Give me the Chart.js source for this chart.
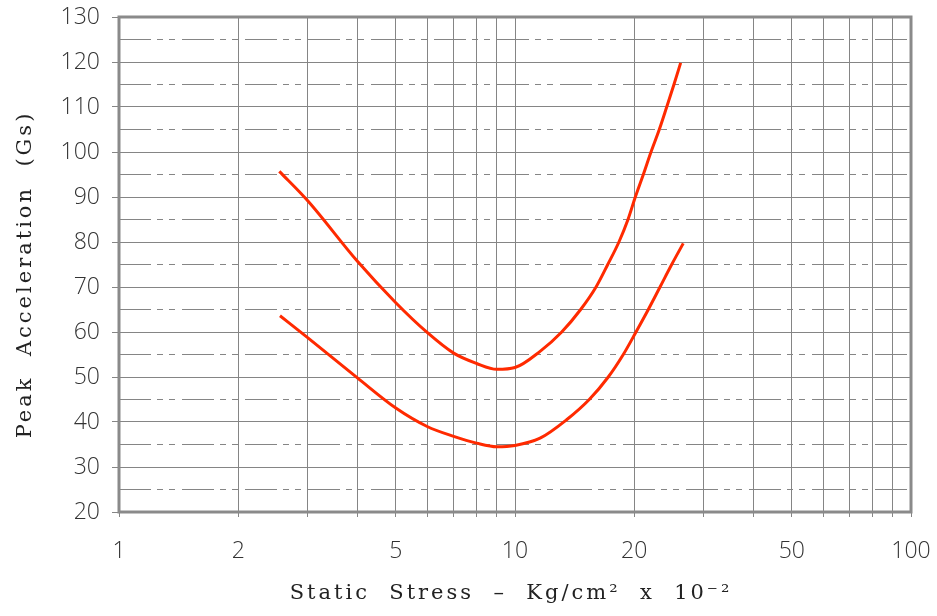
<!DOCTYPE html>
<html>
<head>
<meta charset="utf-8">
<script src="https://cdn.jsdelivr.net/npm/chart.js@4/dist/chart.umd.min.js"></script>
<style>
  html, body { margin: 0; padding: 0; background: #fff; }
  #wrap { width: 937px; height: 616px; position: relative; }
</style>
</head>
<body>
<div id="wrap"><canvas id="c" width="937" height="616"></canvas></div>
<script>
// ---- data ----
const upperStress = [2.54, 3, 4, 5, 6, 7, 8, 9, 10, 11.57, 13.12, 14.65, 16.02, 17.15, 18.3, 19.29, 20.13, 21.09, 22.05, 23.14, 24.16, 25.2, 26.2];
const upperAccel  = [95.7, 89.1, 75.7, 66.5, 59.9, 55.3, 53.0, 51.7, 52.1, 55.7, 60.0, 65.0, 70.0, 75.0, 80.0, 85.0, 90.0, 95.0, 100.0, 105.0, 110.0, 115.0, 119.8];
const lowerStress = [2.55, 3, 4, 5, 6, 7, 8, 9, 10, 11.57, 13.5, 15.4, 17.2, 18.77, 20.21, 21.71, 23.24, 24.87, 26.6];
const lowerAccel  = [63.6, 58.7, 49.8, 43.1, 39.0, 36.8, 35.3, 34.5, 34.8, 36.4, 40.5, 45.0, 50.0, 55.0, 60.0, 65.0, 70.0, 75.0, 79.7];

const xGridValues = [1,2,3,4,5,6,7,8,9,10,20,30,40,50,60,70,80,90,100];
const xTickLabels = ['1','2','5','10','20','50','100'];
const yTickLabels = ['20','30','40','50','60','70','80','90','100','110','120','130'];

const xTitle = 'Static  Stress  \u2013  Kg/cm\u00B2  x  10\u207B\u00B2';
const yTitle = 'Peak  Acceleration  (Gs)';

const toPoints = (xs, ys) => xs.map((x, i) => ({ x: x, y: ys[i] }));

const GRID = '#858585';
const RED = '#ff2a00';
const DASH = [32, 6, 6, 6, 6, 7];
const TITLE_SHIFT = { x: [-4, 0], y: [0, 10] };

const framePlugin = {
  id: 'frame',
  beforeDraw(chart) {
    ['x', 'y'].forEach(id => {
      const s = chart.scales[id];
      if (s && !s._spacedTitle) {
        const orig = s.drawTitle;
        const shift = TITLE_SHIFT[id];
        s.drawTitle = function () {
          const ctx = this.ctx;
          ctx.save();
          ctx.letterSpacing = '3px';
          ctx.translate(shift[0], shift[1]);
          orig.call(this);
          ctx.restore();
        };
        s._spacedTitle = true;
      }
    });
  },
  afterDraw(chart) {
    const { ctx, chartArea: a } = chart;
    ctx.save();
    ctx.strokeStyle = '#8a8a8a';
    ctx.lineWidth = 3;
    ctx.strokeRect(a.left, a.top, a.right - a.left, a.bottom - a.top);
    ctx.restore();
  }
};

const tickFont = { family: "'Open Sans', 'Liberation Sans', sans-serif", size: 23, weight: 300 };
const titleFont = { family: "'DejaVu Serif', 'Liberation Serif', serif", size: 21 };

new Chart(document.getElementById('c'), {
  type: 'line',
  data: {
    datasets: [
      { label: 'upper', data: toPoints(upperStress, upperAccel), borderColor: RED, borderWidth: 3, pointRadius: 0, cubicInterpolationMode: 'monotone', fill: false },
      { label: 'lower', data: toPoints(lowerStress, lowerAccel), borderColor: RED, borderWidth: 3, pointRadius: 0, cubicInterpolationMode: 'monotone', fill: false }
    ]
  },
  options: {
    responsive: false,
    animation: false,
    devicePixelRatio: 1,
    layout: { padding: { left: 0, top: 17, right: 26, bottom: 0 } },
    plugins: { legend: { display: false }, tooltip: { enabled: false } },
    scales: {
      x: {
        type: 'logarithmic',
        min: 1, max: 100,
        afterBuildTicks(scale) { scale.ticks = xGridValues.map(v => ({ value: v })); },
        afterFit(scale) {
          scale.height = 104;
          scale.paddingLeft = 0; scale.paddingRight = 0;
          scale.paddingTop = 0; scale.paddingBottom = 0;
        },
        grid: { color: GRID, lineWidth: 1, drawTicks: true, tickLength: 5, tickColor: GRID },
        border: { display: false },
        ticks: {
          autoSkip: false, maxRotation: 0, minRotation: 0, padding: 21,
          color: '#333', font: tickFont,
          callback: (v) => xTickLabels.includes(String(v)) ? String(v) : ''
        },
        title: { display: true, text: xTitle, color: '#222', font: titleFont, padding: { top: 0, bottom: 10 } }
      },
      y: {
        type: 'linear',
        min: 20, max: 130,
        afterFit(scale) {
          scale.width = 119;
          scale.paddingLeft = 0; scale.paddingRight = 0;
          scale.paddingTop = 0; scale.paddingBottom = 0;
        },
        grid: {
          color: GRID, lineWidth: 1, drawTicks: true, tickLength: 7,
          tickColor: (c) => (c.tick && c.tick.value % 10 === 0) ? GRID : 'rgba(0,0,0,0)'
        },
        border: {
          display: false,
          dash: (c) => (c.tick && c.tick.value % 10 === 5) ? DASH : []
        },
        ticks: {
          stepSize: 5, autoSkip: false, padding: 12,
          color: '#333', font: tickFont,
          callback: (v) => yTickLabels.includes(String(v)) ? String(v) : ''
        },
        title: { display: true, text: yTitle, color: '#222', font: titleFont, padding: { top: 13, bottom: 0 } }
      }
    }
  },
  plugins: [framePlugin]
});
</script>
</body>
</html>
